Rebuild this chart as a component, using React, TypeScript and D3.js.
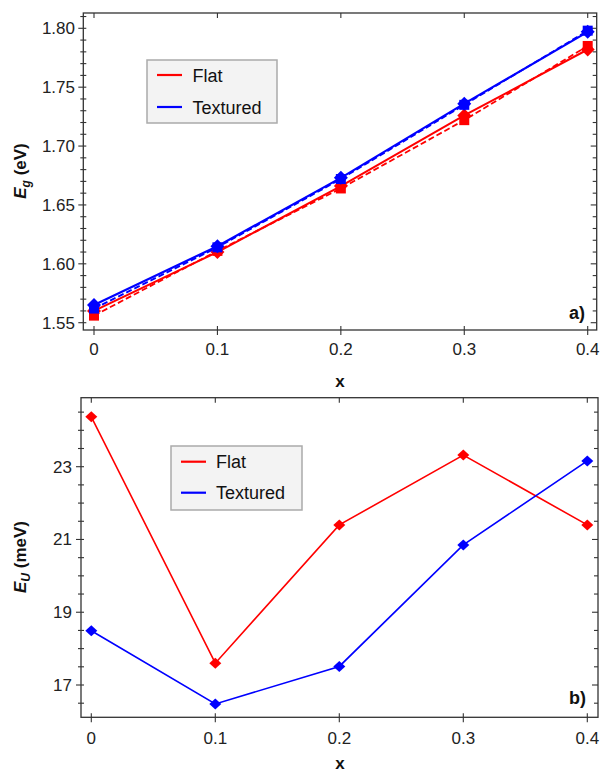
import React from "react";
import * as d3 from "d3";

const xValues = [0, 0.1, 0.2, 0.3, 0.4];
const xTickLabels = ["0", "0.1", "0.2", "0.3", "0.4"];

// Panel a) band gap (eV)
const egFlatSolid = [1.560, 1.610, 1.666, 1.726, 1.782];
const egFlatDashed = [1.556, 1.611, 1.664, 1.722, 1.785];
const egTexSolid = [1.565, 1.615, 1.673, 1.736, 1.797];
const egTexDashed = [1.562, 1.614, 1.672, 1.735, 1.798];
const egMajorTicks = [1.55, 1.6, 1.65, 1.7, 1.75, 1.8];
const egTickLabels = ["1.55", "1.60", "1.65", "1.70", "1.75", "1.80"];

// Panel b) Urbach energy (meV)
const euFlat = [24.37, 17.6, 21.4, 23.32, 21.4];
const euTex = [18.49, 16.48, 17.51, 20.85, 23.16];
const euMajorTicks = [17, 19, 21, 23];
const euTickLabels = ["17", "19", "21", "23"];

const legendNames = ["Flat", "Textured"];
const RED = "#ff0000";
const BLUE = "#0000ff";
const FONT = "'Liberation Sans', Arial, sans-serif";
const AXIS = "#333";

function diamond(cx: number, cy: number, w: number, h: number) {
  return `M${cx},${cy - h}L${cx + w},${cy}L${cx},${cy + h}L${cx - w},${cy}Z`;
}

export default function App() {
  // ----- Panel a geometry
  const aFrame = { l: 83.3, r: 596.7, t: 13, b: 330 };
  const ax = d3.scaleLinear().domain([0, 0.4]).range([94, 587.7]);
  const ay = d3.scaleLinear().domain([1.55, 1.8]).range([322.7, 28.3]);
  const aMinor = d3.range(155, 182).map((v) => v / 100);

  // ----- Panel b geometry
  const bFrame = { l: 81, r: 598, t: 397.7, b: 717.3 };
  const bx = d3.scaleLinear().domain([0, 0.4]).range([91.3, 587.3]);
  const by = d3.scaleLinear().domain([17, 23]).range([685, 466.7]);
  const bMinor = d3.range(33, 50).map((v) => v / 2);

  const lineA = (vals: number[]) =>
    d3.line<number>().x((_, i) => ax(xValues[i])).y((d) => ay(d))(vals) || "";
  const lineB = (vals: number[]) =>
    d3.line<number>().x((_, i) => bx(xValues[i])).y((d) => by(d))(vals) || "";

  const frame = (f: { l: number; r: number; t: number; b: number }) => (
    <rect x={f.l} y={f.t} width={f.r - f.l} height={f.b - f.t} fill="none" stroke={AXIS} strokeWidth={1.3} />
  );

  const legend = (x: number, y: number, w: number, h: number, l1: number, l2: number, lx: number, tx: number) => (
    <g>
      <rect x={x} y={y} width={w} height={h} fill="#f3f3f3" stroke="#aaa" strokeWidth={1.5} />
      {[RED, BLUE].map((c, i) => (
        <g key={i}>
          <line x1={lx} x2={lx + 25} y1={i === 0 ? l1 : l2} y2={i === 0 ? l1 : l2} stroke={c} strokeWidth={2.2} />
          <text x={tx} y={(i === 0 ? l1 : l2) + 6.5} fontSize={18} fill="#111" fontFamily={FONT}>
            {legendNames[i]}
          </text>
        </g>
      ))}
    </g>
  );

  return (
    <svg width={602} height={774} style={{ display: "block", position: "absolute", top: 0, left: 0 }} fontFamily={FONT}>
      <rect x={0} y={0} width={602} height={774} fill="#fff" />

      {/* ================= Panel a ================= */}
      {aMinor.map((v, i) => {
        const major = Math.round(v * 100) % 5 === 0;
        const y = ay(v);
        return (
          <g key={i} stroke={AXIS} strokeWidth={1.1}>
            <line x1={aFrame.l - (major ? 5 : 3)} x2={aFrame.l + 3} y1={y} y2={y} />
            <line x1={aFrame.r - (major ? 6 : 4)} x2={aFrame.r} y1={y} y2={y} />
          </g>
        );
      })}
      {xValues.map((v, i) => (
        <g key={i} stroke={AXIS} strokeWidth={1.1}>
          <line x1={ax(v)} x2={ax(v)} y1={aFrame.b - 4} y2={aFrame.b + 5} />
          <line x1={ax(v)} x2={ax(v)} y1={aFrame.t} y2={aFrame.t + 5} />
        </g>
      ))}
      {frame(aFrame)}
      {egMajorTicks.map((v, i) => (
        <text key={i} x={75} y={ay(v) + 6} textAnchor="end" fontSize={17} fill="#222">
          {egTickLabels[i]}
        </text>
      ))}
      {xValues.map((v, i) => (
        <text key={i} x={ax(v)} y={355} textAnchor="middle" fontSize={17} fill="#222">
          {xTickLabels[i]}
        </text>
      ))}
      <text x={340} y={387} textAnchor="middle" fontSize={17} fontWeight="bold" fill="#111">x</text>
      <text transform="translate(26,171) rotate(-90)" textAnchor="middle" fontSize={17} fontWeight="bold" fill="#111">
        <tspan fontStyle="italic">E</tspan>
        <tspan fontStyle="italic" fontSize={12} dy={4}>g</tspan>
        <tspan dy={-4}> (eV)</tspan>
      </text>
      <text x={585} y={319} textAnchor="end" fontSize={18} fontWeight="bold" fill="#111">a)</text>

      {/* series */}
      <path d={lineA(egFlatDashed)} fill="none" stroke={RED} strokeWidth={1.8} strokeDasharray="6,3" />
      <path d={lineA(egFlatSolid)} fill="none" stroke={RED} strokeWidth={2} />
      {egFlatDashed.map((v, i) => (
        <rect key={i} x={ax(xValues[i]) - 5} y={ay(v) - 5} width={10} height={10} fill={RED} />
      ))}
      {egFlatSolid.map((v, i) => (
        <path key={i} d={diamond(ax(xValues[i]), ay(v), 7, 7)} fill={RED} />
      ))}
      <path d={lineA(egTexDashed)} fill="none" stroke={BLUE} strokeWidth={1.8} strokeDasharray="6,3" />
      <path d={lineA(egTexSolid)} fill="none" stroke={BLUE} strokeWidth={2.2} />
      {egTexDashed.map((v, i) => (
        <rect key={i} x={ax(xValues[i]) - 5} y={ay(v) - 5} width={10} height={10} fill={BLUE} />
      ))}
      {egTexSolid.map((v, i) => (
        <path key={i} d={diamond(ax(xValues[i]), ay(v), 7, 7)} fill={BLUE} />
      ))}

      {legend(147, 60, 130, 63, 75, 107, 157, 192.5)}

      {/* ================= Panel b ================= */}
      {bMinor.map((v, i) => {
        const major = euMajorTicks.includes(v);
        const y = by(v);
        return (
          <g key={i} stroke={AXIS} strokeWidth={1.1}>
            <line x1={bFrame.l - (major ? 5 : 3)} x2={bFrame.l + 3} y1={y} y2={y} />
            <line x1={bFrame.r - (major ? 6 : 4)} x2={bFrame.r} y1={y} y2={y} />
          </g>
        );
      })}
      {xValues.map((v, i) => (
        <g key={i} stroke={AXIS} strokeWidth={1.1}>
          <line x1={bx(v)} x2={bx(v)} y1={bFrame.b - 4} y2={bFrame.b + 5} />
          <line x1={bx(v)} x2={bx(v)} y1={bFrame.t} y2={bFrame.t + 5} />
        </g>
      ))}
      {frame(bFrame)}
      {euMajorTicks.map((v, i) => (
        <text key={i} x={72} y={by(v) + 6} textAnchor="end" fontSize={17} fill="#222">
          {euTickLabels[i]}
        </text>
      ))}
      {xValues.map((v, i) => (
        <text key={i} x={bx(v)} y={744} textAnchor="middle" fontSize={17} fill="#222">
          {xTickLabels[i]}
        </text>
      ))}
      <text x={340} y={769} textAnchor="middle" fontSize={17} fontWeight="bold" fill="#111">x</text>
      <text transform="translate(26,557) rotate(-90)" textAnchor="middle" fontSize={17} fontWeight="bold" fill="#111">
        <tspan fontStyle="italic">E</tspan>
        <tspan fontStyle="italic" fontSize={12} dy={4}>U</tspan>
        <tspan dy={-4}> (meV)</tspan>
      </text>
      <text x={586} y={704} textAnchor="end" fontSize={18} fontWeight="bold" fill="#111">b)</text>

      <path d={lineB(euFlat)} fill="none" stroke={RED} strokeWidth={1.6} />
      {euFlat.map((v, i) => (
        <path key={i} d={diamond(bx(xValues[i]), by(v), 6, 5.5)} fill={RED} />
      ))}
      <path d={lineB(euTex)} fill="none" stroke={BLUE} strokeWidth={1.6} />
      {euTex.map((v, i) => (
        <path key={i} d={diamond(bx(xValues[i]), by(v), 6, 5.5)} fill={BLUE} />
      ))}

      {legend(171, 446, 131, 64, 461.7, 492.7, 181, 216)}
    </svg>
  );
}
